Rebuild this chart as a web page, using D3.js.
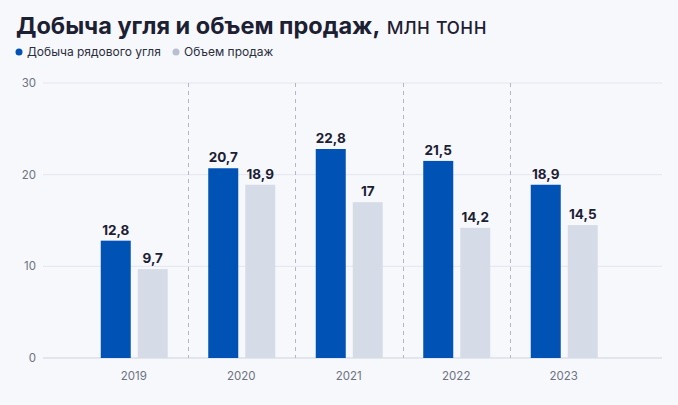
<!DOCTYPE html>
<html>
<head>
<meta charset="utf-8">
<script src="https://cdn.jsdelivr.net/npm/d3@7"></script>
<style>
  body { margin: 0; background: #f7f8fc; }
  svg { display: block; font-family: Inter, "Noto Sans", sans-serif; }
</style>
</head>
<body>
<div id="chart"></div>
<script>
var years = ["2019", "2020", "2021", "2022", "2023"];
var mining = [12.8, 20.7, 22.8, 21.5, 18.9];
var sales = [9.7, 18.9, 17, 14.2, 14.5];
var yTicks = [0, 10, 20, 30];
var seriesNames = ["Добыча рядового угля", "Объем продаж"];
var seriesColors = ["#0052b4", "#d6dce7"];

var width = 678, height = 405;

var svg = d3.select("#chart")
  .append("svg")
    .attr("width", width)
    .attr("height", height);

svg.append("rect")
    .attr("width", width)
    .attr("height", height)
    .attr("fill", "#f7f8fc");

// title
var title = svg.append("text")
    .attr("x", 16)
    .attr("y", 34)
    .attr("fill", "#1c2033");
title.append("tspan")
    .attr("font-weight", 700)
    .style("font-size", "23.5px")
    .text("Добыча угля и объем продаж,");
title.append("tspan")
    .attr("font-weight", 400)
    .style("font-size", "22.5px")
    .text(" млн тонн");

// legend
var legendX = [19, 176];
seriesNames.forEach(function(name, i) {
	svg.append("circle")
	    .attr("cx", legendX[i])
	    .attr("cy", 52)
	    .attr("r", 3.5)
	    .attr("fill", i == 0 ? seriesColors[0] : "#b9bfcf");
	svg.append("text")
	    .attr("x", legendX[i] + 8)
	    .attr("y", 56)
	    .attr("fill", "#2a2e3d")
	    .style("font-size", "12px")
	    .text(name);
});

var x = d3.scaleBand()
    .domain(years)
    .range([80, 617.5]);

var y = d3.scaleLinear()
    .domain([0, 30])
    .range([358, 83]);

// horizontal grid
svg.append("g")
  .selectAll("line")
  .data(yTicks)
  .enter().append("line")
    .attr("x1", 43)
    .attr("x2", 662)
    .attr("y1", function(d) { return y(d); })
    .attr("y2", function(d) { return y(d); })
    .attr("stroke", function(d) { return d == 0 ? "#cfd3dd" : "#e3e6ef"; })
    .attr("stroke-width", 1);

// y labels
svg.append("g")
  .selectAll("text")
  .data(yTicks)
  .enter().append("text")
    .attr("x", 36)
    .attr("y", function(d) { return y(d) + 4; })
    .attr("text-anchor", "end")
    .attr("fill", "#6d7282")
    .style("font-size", "11.5px")
    .text(function(d) { return d; });

// dashed separators
svg.append("g")
  .selectAll("line")
  .data(years.slice(1))
  .enter().append("line")
    .attr("x1", function(d) { return Math.round(x(d)) + 0.5; })
    .attr("x2", function(d) { return Math.round(x(d)) + 0.5; })
    .attr("y1", 83)
    .attr("y2", 358)
    .attr("stroke", "#b4b8c6")
    .attr("stroke-dasharray", "4,4");

// x labels
svg.append("g")
  .selectAll("text")
  .data(years)
  .enter().append("text")
    .attr("x", function(d) { return x(d) + x.bandwidth() / 2; })
    .attr("y", 380)
    .attr("text-anchor", "middle")
    .attr("fill", "#6d7282")
    .style("font-size", "11.5px")
    .text(function(d) { return d; });

var barW = 30;
var offsets = [-33, 4];
[mining, sales].forEach(function(values, s) {
	var g = svg.append("g");
	g.selectAll("rect")
	  .data(values)
	  .enter().append("rect")
	    .attr("x", function(d, i) { return x(years[i]) + x.bandwidth() / 2 + offsets[s]; })
	    .attr("y", function(d) { return y(d); })
	    .attr("width", barW)
	    .attr("height", function(d) { return y(0) - y(d); })
	    .attr("fill", seriesColors[s]);
	g.selectAll("text")
	  .data(values)
	  .enter().append("text")
	    .attr("x", function(d, i) { return x(years[i]) + x.bandwidth() / 2 + offsets[s] + barW / 2; })
	    .attr("y", function(d) { return y(d) - 6; })
	    .attr("text-anchor", "middle")
	    .attr("fill", "#1c2033")
	    .attr("font-weight", 700)
	    .style("font-size", "13.5px")
	    .text(function(d) { return String(d).replace(".", ","); });
});
</script>
</body>
</html>
